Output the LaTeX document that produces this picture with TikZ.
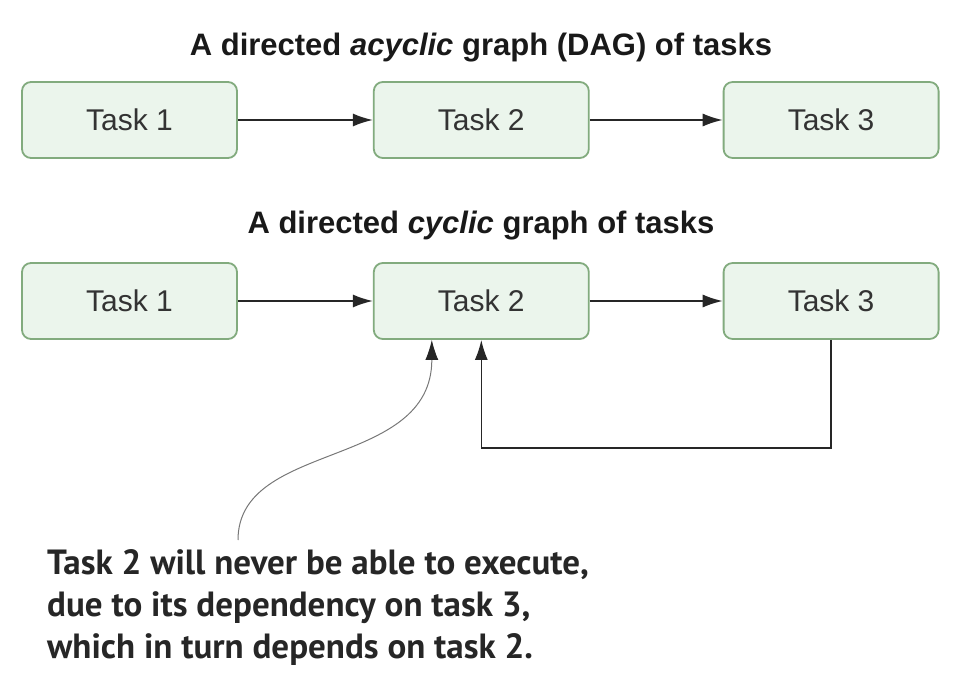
\documentclass[tikz,border=0pt]{standalone}
\usepackage{fontspec}
\setmainfont{Liberation Sans}
\newfontfamily\notefont{PT Sans}
\usetikzlibrary{positioning,arrows.meta}

\definecolor{taskfill}{HTML}{EBF5EC}
\definecolor{taskline}{HTML}{82AB7E}
\definecolor{taskgray}{HTML}{333333}
\definecolor{notegray}{HTML}{777777}

\tikzstyle{task} = [draw=taskline, line width=1.8pt, fill=taskfill,
    rounded corners=9pt, minimum width=215pt, minimum height=76pt,
    inner sep=0pt, text=taskgray, font=\fontsize{30}{34}\selectfont]
\tikzstyle{heading} = [text=black!90, font=\bfseries\fontsize{31}{36}\selectfont]
\tikzstyle{flow} = [-{Latex[length=20pt,width=13pt]}, line width=1.6pt, black!85]

\begin{document}
\begin{tikzpicture}[x=1pt, y=-1pt]
  \useasboundingbox (0,0) rectangle (962,690);

  % acyclic graph
  \node (dagtitle) [heading] at (481,48) {A directed \textit{acyclic} graph (DAG) of tasks};
  \node (a1) [task] at (129.5,120) {Task 1};
  \node (a2) [task, right=135pt of a1] {Task 2};
  \node (a3) [task, right=133pt of a2] {Task 3};

  % cyclic graph
  \node (dcgtitle) [heading] at (481,226) {A directed \textit{cyclic} graph of tasks};
  \node (c1) [task] at (129.5,301) {Task 1};
  \node (c2) [task, right=135pt of c1] {Task 2};
  \node (c3) [task, right=133pt of c2] {Task 3};

  \draw [flow] (a1) -- (a2);
  \draw [flow] (a2) -- (a3);
  \draw [flow] (c1) -- (c2);
  \draw [flow] (c2) -- (c3);
  \draw [flow] (c3.south) -- ++(0,108) -| (c2.south);

  % note
  \node (note) [anchor=north west, inner sep=0pt, align=left, text=black!85,
    font=\notefont\bfseries\fontsize{35}{42}\selectfont] at (47,549)
    {Task 2 will never be able to execute,\\
     due to its dependency on task 3,\\
     which in turn depends on task 2.};
  \coordinate (notetip) at (238,540);
  \draw [-{Latex[length=20pt,width=13pt,black!85]}, draw=notegray, line width=1pt]
    (notetip) .. controls (238,440) and (432,470) .. ([xshift=-49.5pt]c2.south);
\end{tikzpicture}
\end{document}
